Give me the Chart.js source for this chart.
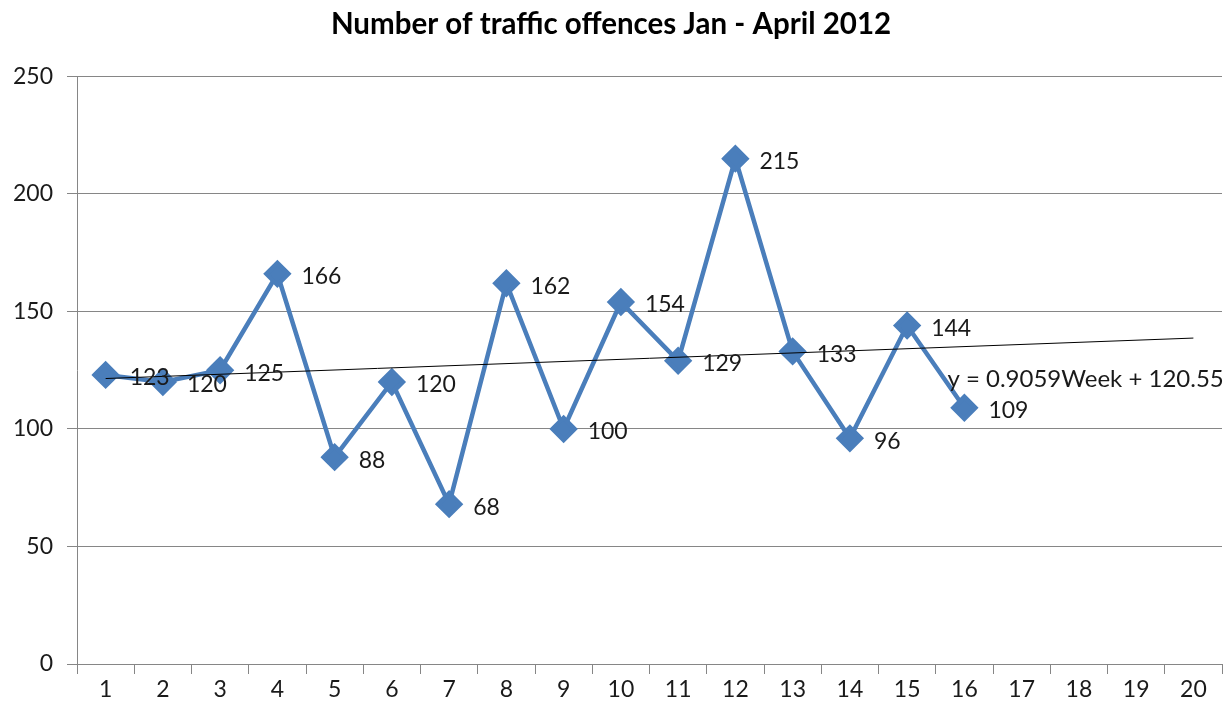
<!DOCTYPE html>
<html>
<head>
<meta charset="utf-8">
<script src="https://cdn.jsdelivr.net/npm/chart.js@4/dist/chart.umd.min.js"></script>
<style>
html,body{margin:0;padding:0;background:#fff;}
#wrap{width:1227px;height:710px;position:relative;}
</style>
</head>
<body>
<div id="wrap"><canvas id="c" width="1227" height="710"></canvas></div>
<script>
const weeks = ['1','2','3','4','5','6','7','8','9','10','11','12','13','14','15','16','17','18','19','20'];
const offences = [123,120,125,166,88,120,68,162,100,154,129,215,133,96,144,109,null,null,null,null];
// trendline endpoints (week 1 and week 20) read from y = 0.9059Week + 120.55
const trend = [121.46,null,null,null,null,null,null,null,null,null,null,null,null,null,null,null,null,null,null,138.67];
const trendLabel = 'y = 0.9059Week + 120.55';
const yTicks = [0,50,100,150,200,250];

const FONT = 'Lato, "Open Sans", sans-serif';

const labelPlugin = {
  id: 'pointLabels',
  afterDatasetsDraw(chart) {
    const ctx = chart.ctx;
    const meta = chart.getDatasetMeta(0);
    ctx.save();
    ctx.font = '23px ' + FONT;
    ctx.fillStyle = '#1a1a1a';
    ctx.textAlign = 'left';
    ctx.textBaseline = 'middle';
    meta.data.forEach((pt, i) => {
      const v = offences[i];
      if (v === null) return;
      ctx.fillText(String(v), pt.x + 24, pt.y + 3);
    });
    const xs = chart.scales.x, ys = chart.scales.y;
    ctx.font = '24px ' + FONT;
    ctx.fillText(trendLabel, xs.getPixelForValue(15) - 17, ys.getPixelForValue(121));
    ctx.restore();
  }
};

new Chart(document.getElementById('c'), {
  type: 'line',
  data: {
    labels: weeks,
    datasets: [
      {
        data: offences,
        borderColor: '#4a7ebb',
        backgroundColor: '#4a7ebb',
        borderWidth: 4.5,
        pointStyle: 'rectRot',
        pointRadius: 11,
        pointHoverRadius: 11,
        tension: 0,
        spanGaps: false,
        order: 1
      },
      {
        data: trend,
        borderColor: '#000000',
        borderWidth: 1,
        pointRadius: 0,
        spanGaps: true,
        tension: 0,
        order: 0
      }
    ]
  },
  options: {
    responsive: false,
    animation: false,
    layout: { autoPadding: false, padding: { left: 0, right: 5, top: 7, bottom: 0 } },
    plugins: {
      legend: { display: false },
      tooltip: { enabled: false },
      title: {
        display: true,
        text: 'Number of traffic offences Jan - April 2012',
        color: '#000',
        font: { family: FONT, size: 29.5, weight: 'bold' },
        padding: { top: 0, bottom: 34 }
      }
    },
    scales: {
      x: {
        offset: true,
        afterFit(scale) { scale.height = 46; scale.paddingLeft = 0; scale.paddingRight = 0; },
        grid: { display: true, drawOnChartArea: false, drawTicks: true, tickLength: 10, color: '#868686', offset: true },
        border: { display: true, color: '#868686', width: 1 },
        ticks: { color: '#1a1a1a', font: { family: FONT, size: 23 }, padding: 2, maxRotation: 0, autoSkip: false }
      },
      y: {
        min: 0, max: 250,
        afterBuildTicks(scale) { scale.ticks = yTicks.map(v => ({ value: v })); },
        afterFit(scale) { scale.width = 77; },
        grid: { color: '#868686', drawTicks: true, tickLength: 10 },
        border: { display: true, color: '#868686', width: 1 },
        ticks: { color: '#1a1a1a', font: { family: FONT, size: 23 }, padding: 14 }
      }
    }
  },
  plugins: [labelPlugin]
});
</script>
</body>
</html>
